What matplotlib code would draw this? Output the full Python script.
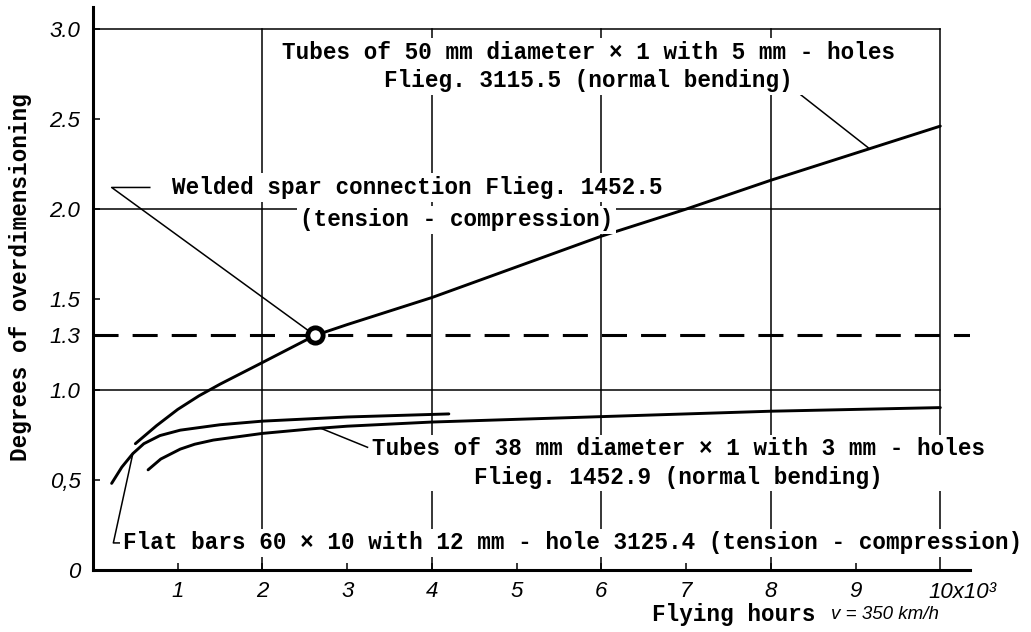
import matplotlib.pyplot as plt

# --- data ---
# 50 mm tubes, Flieg. 3115.5
tube50_x = [0.5, 0.75, 1.0, 1.25, 1.5, 2.0, 2.62, 3.0, 4.0, 5.0, 6.0, 7.0, 8.0, 9.0, 10.0]
tube50_y = [0.70, 0.80, 0.89, 0.965, 1.03, 1.15, 1.30, 1.36, 1.51, 1.68, 1.85, 2.0, 2.16, 2.31, 2.46]

# flat bars 60 x 10, 3125.4
flat_x = [0.22, 0.34, 0.47, 0.6, 0.79, 1.03, 1.5, 2.0, 3.0, 4.2]
flat_y = [0.48, 0.57, 0.645, 0.70, 0.745, 0.775, 0.805, 0.825, 0.848, 0.865]

# 38 mm tubes, Flieg. 1452.9
tube38_x = [0.65, 0.8, 1.03, 1.2, 1.42, 2.0, 2.6, 3.0, 4.0, 5.0, 6.0, 7.0, 8.0, 9.0, 10.0]
tube38_y = [0.555, 0.615, 0.67, 0.697, 0.72, 0.757, 0.783, 0.797, 0.82, 0.835, 0.85, 0.865, 0.88, 0.89, 0.90]

# welded spar connection point and required degree
weld_x, weld_y = 2.62, 1.3
required = 1.3

x_ticks = [1, 2, 3, 4, 5, 6, 7, 8, 9]
x_tick_labels = ["1", "2", "3", "4", "5", "6", "7", "8", "9"]
y_ticks = [0, 0.5, 1.0, 1.3, 1.5, 2.0, 2.5, 3.0]
y_tick_labels = ["0", "0,5", "1.0", "1.3", "1.5", "2.0", "2.5", "3.0"]
grid_x = [2, 4, 6, 8, 10]
grid_y = [1.0, 2.0, 3.0]

label_top = "Tubes of 50 mm diameter \u00d7 1 with 5 mm - holes\nFlieg. 3115.5 (normal bending)"
label_weld1 = "Welded spar connection Flieg. 1452.5"
label_weld2 = "(tension - compression)"
label_t38 = "Tubes of 38 mm diameter \u00d7 1 with 3 mm - holes\nFlieg. 1452.9 (normal bending)"
label_flat = "Flat bars 60 \u00d7 10 with 12 mm - hole 3125.4 (tension - compression)"

# leader lines (label anchor -> curve)
lead_top_x, lead_top_y = [8.2, 9.15], [2.69, 2.34]
lead_weld_x, lead_weld_y = [0.67, 0.22, weld_x], [2.12, 2.12, weld_y]
lead_t38_x, lead_t38_y = [2.68, 3.24], [0.787, 0.68]
lead_flat_x, lead_flat_y = [0.47, 0.24, 0.32], [0.645, 0.15, 0.15]

mono = "Liberation Mono"
hand = "Liberation Sans"

fig = plt.figure(figsize=(10.31, 6.32), dpi=100)
ax = fig.add_axes([0.0902, 0.0981, 0.8506, 0.8908])
ax.set_xlim(0, 10.35)
ax.set_ylim(0, 3.12)

# grid drawn by hand: it only goes up to 3.0 and to x = 10
for gx in grid_x:
    ax.plot([gx, gx], [0, 3.0], color="black", lw=1.1, zorder=1)
for gy in grid_y:
    ax.plot([0, 10], [gy, gy], color="black", lw=1.1, zorder=1)

ax.plot([0, 10.35], [required, required], color="black", lw=2.2,
        dashes=(8.2, 4.6), zorder=2)

ax.plot(tube50_x, tube50_y, color="black", lw=2.1, zorder=3, solid_capstyle="round")
ax.plot(flat_x, flat_y, color="black", lw=2.1, zorder=3, solid_capstyle="round")
ax.plot(tube38_x, tube38_y, color="black", lw=2.1, zorder=3, solid_capstyle="round")

for lx, ly in [(lead_top_x, lead_top_y), (lead_weld_x, lead_weld_y),
               (lead_t38_x, lead_t38_y), (lead_flat_x, lead_flat_y)]:
    ax.plot(lx, ly, color="black", lw=1.1, zorder=3)

ax.plot([weld_x], [weld_y], marker="o", ms=11, mew=3.5, mfc="white",
        mec="black", zorder=5)

box = dict(facecolor="white", edgecolor="none", pad=2)
txt = dict(family=mono, weight="bold", fontsize=16.3, zorder=4, bbox=box)
ax.text(5.85, 2.79, label_top, ha="center", va="center", linespacing=1.3, **txt)
ax.text(0.93, 2.12, label_weld1, ha="left", va="center", **txt)
ax.text(2.44, 1.94, label_weld2, ha="left", va="center", **txt)
ax.text(6.91, 0.593, label_t38, ha="center", va="center", linespacing=1.3, **txt)
ax.text(0.35, 0.15, label_flat, ha="left", va="center", **txt)

# axes styling
for s in ["top", "right"]:
    ax.spines[s].set_visible(False)
for s in ["left", "bottom"]:
    ax.spines[s].set_linewidth(2.2)

ax.set_xticks(x_ticks)
ax.set_xticklabels(x_tick_labels, family=hand, style="italic", fontsize=16)
ax.set_yticks(y_ticks)
ax.set_yticklabels(y_tick_labels, family=hand, style="italic", fontsize=16)
ax.tick_params(axis="both", direction="in", length=5, width=1.1)
ax.tick_params(axis="x", pad=8)
ax.tick_params(axis="y", pad=9)

ax.text(9.86, -0.065, "10x10\u00b3", ha="left", va="top", family=hand,
        style="italic", fontsize=16, clip_on=False)

ax.set_ylabel("Degrees of overdimensioning", family=mono, weight="bold", fontsize=16.3)
ax.yaxis.set_label_coords(-0.07, 0.52)
fig.text(0.632, 0.027, "Flying hours", family=mono, weight="bold", fontsize=16.3,
         ha="left", va="center")
fig.text(0.806, 0.027, "v = 350 km/h", family=hand, style="italic", fontsize=13.5,
         ha="left", va="center")

plt.savefig("out.png", dpi=100)
